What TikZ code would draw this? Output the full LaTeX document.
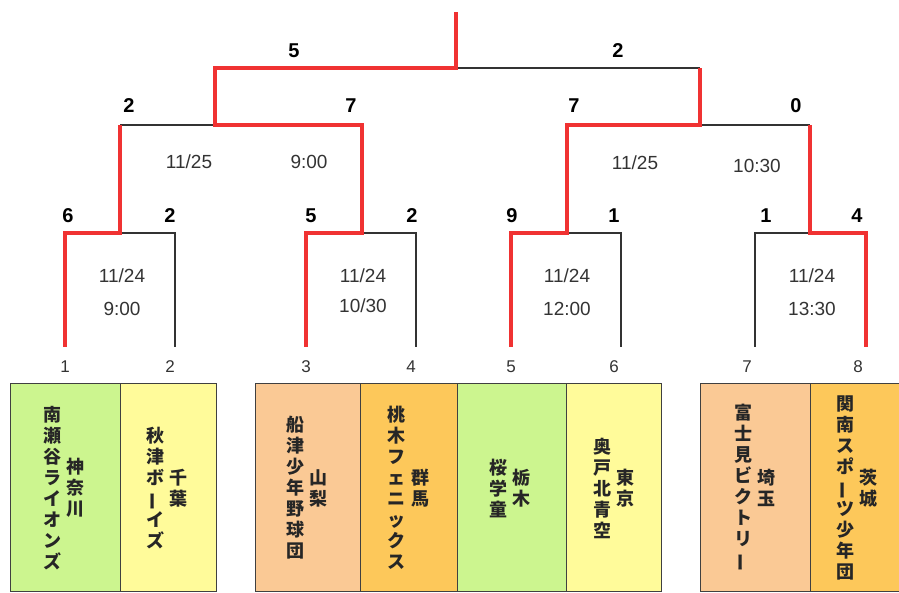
\documentclass[tikz,border=0pt]{standalone}
\usepackage{fontspec}
\setmainfont{Liberation Sans}
\newfontfamily\jp{Noto Sans CJK JP}
\definecolor{winred}{RGB}{240,50,50}
\definecolor{boxgreen}{RGB}{204,245,143}
\definecolor{boxyellow}{RGB}{255,251,154}
\definecolor{boxpeach}{RGB}{250,201,149}
\definecolor{boxorange}{RGB}{253,200,90}
\def\vbar{\rotatebox[origin=c]{90}{ー}}

\begin{document}
\begin{tikzpicture}[x=1pt, y=-1pt,
	win/.style={line width=4pt, color=winred},
	lose/.style={line width=1.3pt, color=black!80},
	teambox/.style={line width=1pt, draw=black!75},
	score/.style={font=\fontsize{20}{20}\selectfont\bfseries, inner sep=0pt},
	date/.style={font=\fontsize{19}{19}\selectfont, text=black!80, inner sep=0pt},
	seed/.style={font=\fontsize{17}{17}\selectfont, text=black!80, inner sep=0pt},
	team/.style={font=\jp\bfseries\fontsize{18}{21}\selectfont, align=center, inner sep=0pt, text=black!85}]
			%%%%% START %%%%%
			
			\useasboundingbox (0, 0) rectangle (899, 593);
			\clip (0, 0) rectangle (899, 593);
			
			% team boxes
			\draw[teambox, fill=boxgreen] (10, 383) rectangle (120, 591);
			\draw[teambox, fill=boxyellow] (120, 383) rectangle (216, 591);
			\draw[teambox, fill=boxpeach] (255, 383) rectangle (360, 591);
			\draw[teambox, fill=boxorange] (360, 383) rectangle (457, 591);
			\draw[teambox, fill=boxgreen] (457, 383) rectangle (566, 591);
			\draw[teambox, fill=boxyellow] (566, 383) rectangle (661, 591);
			\draw[teambox, fill=boxpeach] (700, 383) rectangle (810, 591);
			\draw[teambox, fill=boxorange] (810, 383) rectangle (905, 591);
			
			% bracket points
			\coordinate (t1) at (65, 347);
			\coordinate (t2) at (175, 347);
			\coordinate (t3) at (306, 347);
			\coordinate (t4) at (416, 347);
			\coordinate (t5) at (511, 347);
			\coordinate (t6) at (621, 347);
			\coordinate (t7) at (755, 347);
			\coordinate (t8) at (866, 347);
			\coordinate (m1) at (120, 233);
			\coordinate (m2) at (362, 233);
			\coordinate (m3) at (567, 233);
			\coordinate (m4) at (810, 233);
			\coordinate (s1) at (215, 125);
			\coordinate (s2) at (700, 125);
			\coordinate (f) at (456, 68);
			\coordinate (top) at (456, 12);
			
			% losing lines
			\draw[lose] (t2) |- (m1);
			\draw[lose] (t4) |- (m2);
			\draw[lose] (t6) |- (m3);
			\draw[lose] (t7) |- (m4);
			\draw[lose] (m1 |- s1) -- (s1);
			\draw[lose] (m4 |- s2) -- (s2);
			\draw[lose] (f) -- (s2 |- f);
			
			% winning lines
			\draw[win] (t1) |- (m1) -- (m1 |- s1);
			\draw[win] (t3) |- (m2) -- (m2 |- s1) -- (s1) -- (s1 |- f) -- (f) -- (top);
			\draw[win] (t5) |- (m3) -- (m3 |- s2) -- (s2) -- (s2 |- f);
			\draw[win] (t8) |- (m4) -- (m4 |- s2);
			
			% scores
			\node[score] (fin-a) at (294, 51) {5};
			\node[score] (fin-b) at (618, 51) {2};
			\node[score] (sf1-a) at (129, 106) {2};
			\node[score] (sf1-b) at (351, 106) {7};
			\node[score] (sf2-a) at (574, 106) {7};
			\node[score] (sf2-b) at (796, 106) {0};
			\node[score] (r1-a) at (68, 216) {6};
			\node[score] (r1-b) at (170, 216) {2};
			\node[score] (r2-a) at (311, 216) {5};
			\node[score] (r2-b) at (412, 216) {2};
			\node[score] (r3-a) at (512, 216) {9};
			\node[score] (r3-b) at (614, 216) {1};
			\node[score] (r4-a) at (766, 216) {1};
			\node[score] (r4-b) at (857, 216) {4};
			
			% dates and times
			\node[date] (sf1-day) at (189, 162) {11/25};
			\node[date] (sf1-time) at (309, 162) {9:00};
			\node[date] (sf2-day) at (635, 163) {11/25};
			\node[date] (sf2-time) at (757, 166) {10:30};
			\node[date] (r1-day) at (122, 276) {11/24};
			\node[date] (r1-time) at (122, 309) {9:00};
			\node[date] (r2-day) at (363, 276) {11/24};
			\node[date] (r2-time) at (363, 306) {10/30};
			\node[date] (r3-day) at (567, 276) {11/24};
			\node[date] (r3-time) at (567, 309) {12:00};
			\node[date] (r4-day) at (812, 276) {11/24};
			\node[date] (r4-time) at (812, 309) {13:30};
			
			% seeds
			\node[seed] (n1) at (65, 367) {1};
			\node[seed] (n2) at (170, 367) {2};
			\node[seed] (n3) at (306, 367) {3};
			\node[seed] (n4) at (411, 367) {4};
			\node[seed] (n5) at (511, 367) {5};
			\node[seed] (n6) at (614, 367) {6};
			\node[seed] (n7) at (747, 367) {7};
			\node[seed] (n8) at (858, 367) {8};
			
			% teams
			\node[team] (team1) at (52, 488) {南\\瀬\\谷\\ラ\\イ\\オ\\ン\\ズ};
			\node[team] (pref1) at (75, 488) {神\\奈\\川};
			\node[team] (team2) at (155, 488) {秋\\津\\ボ\\\vbar\\イ\\ズ};
			\node[team] (pref2) at (178, 488) {千\\葉};
			\node[team] (team3) at (295, 488) {船\\津\\少\\年\\野\\球\\団};
			\node[team] (pref3) at (318, 488) {山\\梨};
			\node[team] (team4) at (396, 488) {桃\\木\\フ\\ェ\\ニ\\ッ\\ク\\ス};
			\node[team] (pref4) at (420, 488) {群\\馬};
			\node[team] (team5) at (498, 488) {桜\\学\\童};
			\node[team] (pref5) at (521, 488) {栃\\木};
			\node[team] (team6) at (602, 488) {奥\\戸\\北\\青\\空};
			\node[team] (pref6) at (625, 488) {東\\京};
			\node[team] (team7) at (743, 488) {富\\士\\見\\ビ\\ク\\ト\\リ\\\vbar};
			\node[team] (pref7) at (766, 488) {埼\\玉};
			\node[team] (team8) at (845, 488) {関\\南\\ス\\ポ\\\vbar\\ツ\\少\\年\\団};
			\node[team] (pref8) at (868, 488) {茨\\城};
			
			%%%%% END %%%%%
\end{tikzpicture}
\end{document}
